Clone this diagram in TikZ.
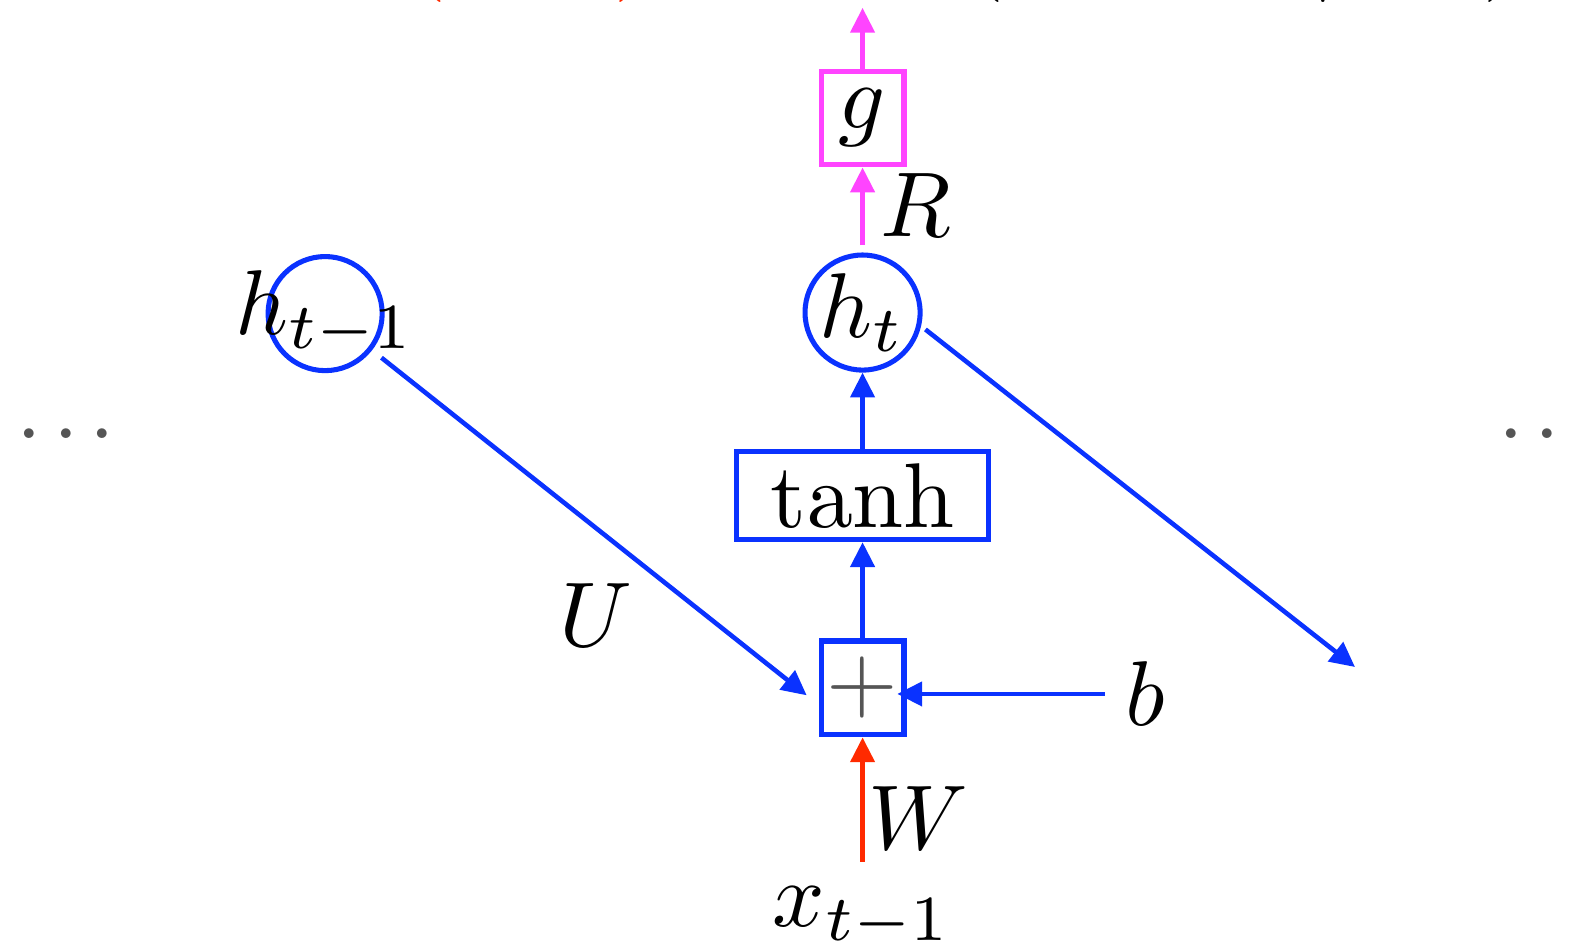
\documentclass[tikz,border=0pt]{standalone}
\definecolor{rnnBlue}{HTML}{0A32FF}
\definecolor{rnnMagenta}{HTML}{FF44FF}
\definecolor{rnnRed}{HTML}{FF2A00}
\definecolor{rnnGray}{HTML}{555555}
\usepackage{tikz}
\usetikzlibrary{
	arrows.meta,
	positioning,
	calc
}

\begin{document}
\begin{tikzpicture}[
		>={Triangle[length=2.7pt,width=2.6pt]},
		flow/.style={->,line width=0.5pt,rnnBlue},
		unit/.style={draw=rnnBlue,line width=0.55pt,inner sep=0.3pt,minimum width=9pt,minimum height=10.2pt},
		state/.style={circle,draw=rnnBlue,line width=0.55pt,minimum size=12.4pt,inner sep=0pt},
		lbl/.style={anchor=base,inner sep=2pt},
		dots/.style={text=rnnGray,inner sep=0pt}
	]
		\useasboundingbox (-3.295,-0.993) rectangle (2.729,2.628);
		% the cell
		\node[unit] (plus) at (0,0) {\color{rnnGray}$+$};
		\node[unit,minimum width=27.4pt,minimum height=9.6pt] (tanh) at (0,0.735) {$\tanh$};
		\node[state] (ht) at (0,1.434) {$h_t$};
		\node[unit,draw=rnnMagenta] (g) at (0,2.177) {$g$};
		\node[state] (hprev) at (-2.053,1.43) {};
		\node (hprevtxt) at (hprev) {$h_{t-1}$};
		\node[lbl] (xin) at (0,-0.913) {$x_{t-1}$};
		\node[anchor=west,inner sep=2pt] (bval) at (0.926,-0.023) {$b$};
		\node[lbl] (wlbl) at (0.212,-0.619) {$W$};
		\node[lbl] (rlbl) at (0.204,1.723) {$R$};
		\node[lbl] (ulbl) at (-1.020,0.157) {$U$};
		\node[dots] (dotsl) at (-3.043,0.970) {.\kern1.2pt.\kern1.2pt.};
		\node[dots] (dotsr) at (2.616,0.970) {.\kern1.2pt.\kern1.2pt.};
		% caption line cut by the top edge
		\node[lbl,text=rnnRed] (topa) at (-1.660,2.705) {$($};
		\node[lbl,text=rnnRed] (topb) at (-0.880,2.705) {$)$};
		\node[lbl] (topc) at (0.472,2.705) {$($};
		\node[lbl] (topd) at (1.759,2.705) {$\mid$};
		\node[lbl] (tope) at (2.440,2.705) {$)$};
		\coordinate (yout) at (0,2.598);
		\coordinate (hnext) at (1.881,0.080);
		% connectors
		\draw[flow,rnnRed,shorten <=0.6pt] (xin) -- (plus);
		\draw[flow] (plus) -- (tanh);
		\draw[flow] (tanh) -- (ht);
		\draw[flow,rnnMagenta,shorten <=0.8pt] (ht) -- (g);
		\draw[flow,rnnMagenta] (g) -- (yout);
		\draw[flow,shorten >=-1pt] (bval.west) -- (bval.west -| plus.east);
		\draw[flow,shorten <=1.3pt] (hprev.-38) -- ($(plus.west)+(-1.3pt,-0.8pt)$);
		\draw[flow,shorten <=0.6pt] (ht.-13) -- (hnext);
	\end{tikzpicture}
\end{document}
